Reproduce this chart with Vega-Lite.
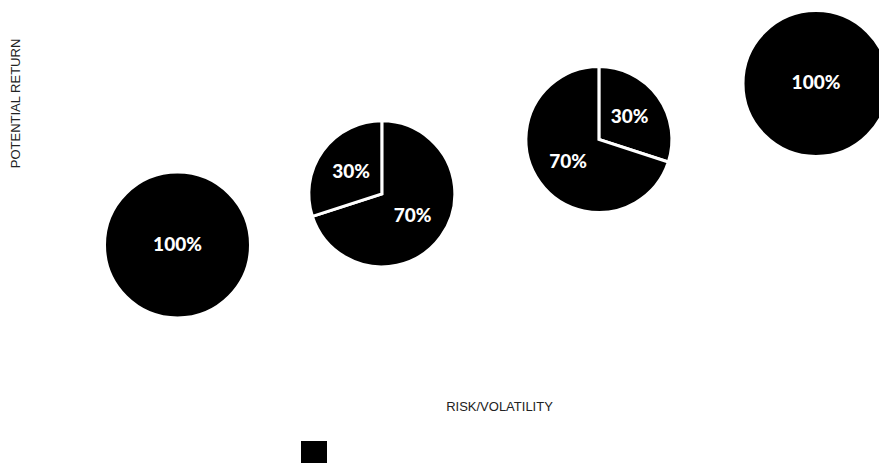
{
  "$schema": "https://vega.github.io/schema/vega-lite/v6.json",
  "width": 879,
  "height": 463,
  "autosize": {"type": "none"},
  "padding": 0,
  "background": "white",
  "config": {
    "view": {"stroke": null},
    "axis": {"grid": false, "domain": false, "ticks": false, "labels": false, "titleFont": "Liberation Sans", "titleFontSize": 13, "titleFontWeight": "normal", "titleColor": "#222"}
  },
  "data": {"values": [
    {"pie": "A", "risk": 1, "return": 1, "share": 100, "order": 1, "label": "100%"},
    {"pie": "B", "risk": 1.96, "return": 1.95, "share": 70, "order": 1, "label": "70%"},
    {"pie": "B", "risk": 1.96, "return": 1.95, "share": 30, "order": 2, "label": "30%"},
    {"pie": "C", "risk": 2.98, "return": 2.96, "share": 30, "order": 1, "label": "30%"},
    {"pie": "C", "risk": 2.98, "return": 2.96, "share": 70, "order": 2, "label": "70%"},
    {"pie": "D", "risk": 4, "return": 4, "share": 100, "order": 1, "label": "100%"}
  ]},
  "encoding": {
    "x": {"field": "risk", "type": "quantitative", "scale": {"domain": [0.166, 4.296], "nice": false, "zero": false}, "axis": {"title": "RISK/VOLATILITY", "titleX": 499, "titleY": -57, "titleBaseline": "middle", "titleAlign": "center"}},
    "y": {"field": "return", "type": "quantitative", "scale": {"domain": [-3.05, 5.551], "nice": false, "zero": false}, "axis": {"title": "POTENTIAL RETURN", "titleX": 15, "titleY": 103, "titleAngle": -90, "titleBaseline": "middle", "titleAlign": "center"}}
  },
  "layer": [
    {
      "transform": [
        {"stack": "share", "groupby": ["pie"], "sort": [{"field": "order", "order": "ascending"}], "as": ["s0", "s1"]}
      ],
      "mark": {"type": "arc", "stroke": "white", "strokeWidth": 3, "outerRadius": 73},
      "encoding": {
        "theta": {"field": "s0", "type": "quantitative", "scale": {"domain": [0, 100]}},
        "theta2": {"field": "s1"},
        "color": {"datum": "Portfolio", "scale": {"range": ["#000000"]}, "legend": {"orient": "none", "legendX": 301, "legendY": 441, "symbolType": "square", "symbolSize": 676, "symbolStrokeWidth": 0, "labelExpr": "''", "title": null, "padding": 0}}
      }
    },
    {
      "transform": [{"filter": "datum.pie == 'B'"}],
      "mark": {"type": "text", "color": "white", "font": "Lato", "fontWeight": 900, "fontSize": 19, "radius": 38},
      "encoding": {
        "theta": {"field": "share", "type": "quantitative", "stack": true},
        "order": {"field": "order", "type": "quantitative"},
        "text": {"field": "label"}
      }
    },
    {
      "transform": [{"filter": "datum.pie == 'C'"}],
      "mark": {"type": "text", "color": "white", "font": "Lato", "fontWeight": 900, "fontSize": 19, "radius": 38},
      "encoding": {
        "theta": {"field": "share", "type": "quantitative", "stack": true},
        "order": {"field": "order", "type": "quantitative"},
        "text": {"field": "label"}
      }
    },
    {
      "transform": [{"filter": "datum.share == 100"}],
      "mark": {"type": "text", "color": "white", "font": "Lato", "fontWeight": 900, "fontSize": 19},
      "encoding": {
        "text": {"field": "label"}
      }
    }
  ]
}
